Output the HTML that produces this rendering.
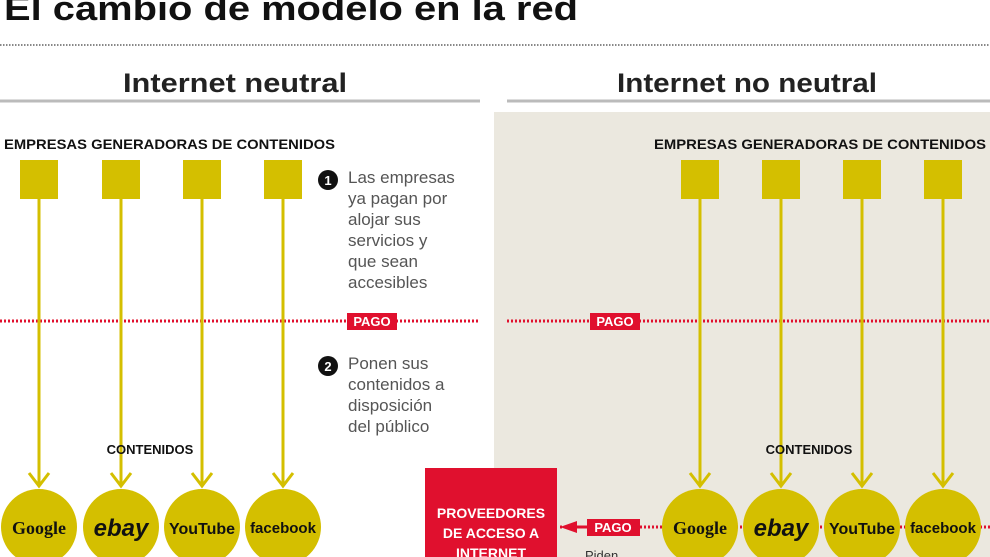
<!DOCTYPE html>
<html><head><meta charset="utf-8"><style>
html,body{margin:0;padding:0;background:#fff}
svg{display:block}
text{font-family:"Liberation Sans",sans-serif}
</style></head><body>
<svg width="990" height="557" viewBox="0 0 990 557" xmlns="http://www.w3.org/2000/svg">
<rect x="494" y="112" width="496" height="445" fill="#ebe8df"/>
<text x="4" y="20" font-size="34" font-weight="bold" fill="#111" textLength="574" lengthAdjust="spacingAndGlyphs">El cambio de modelo en la red</text>
<line x1="0" y1="45" x2="990" y2="45" stroke="#888" stroke-width="2" stroke-dasharray="1.5,1.5"/>
<text x="123" y="92" font-size="27" font-weight="bold" fill="#222" textLength="224" lengthAdjust="spacingAndGlyphs">Internet  neutral</text>
<text x="617" y="92" font-size="27" font-weight="bold" fill="#222" textLength="260" lengthAdjust="spacingAndGlyphs">Internet no neutral</text>
<line x1="0" y1="101" x2="480" y2="101" stroke="#bbb" stroke-width="3"/>
<line x1="507" y1="101" x2="990" y2="101" stroke="#bbb" stroke-width="3"/>
<text x="4" y="149" font-size="14" font-weight="bold" fill="#111" textLength="331" lengthAdjust="spacingAndGlyphs">EMPRESAS GENERADORAS DE CONTENIDOS</text>
<text x="654" y="149" font-size="14" font-weight="bold" fill="#111" textLength="332" lengthAdjust="spacingAndGlyphs">EMPRESAS GENERADORAS DE CONTENIDOS</text>
<line x1="0" y1="321" x2="480" y2="321" stroke="#e0102e" stroke-width="3" stroke-dasharray="2,2"/>
<line x1="507" y1="321" x2="990" y2="321" stroke="#e0102e" stroke-width="3" stroke-dasharray="2,2"/>
<line x1="560" y1="527" x2="990" y2="527" stroke="#e0102e" stroke-width="3" stroke-dasharray="2,2"/>
<g fill="#d4bf00">
<rect x="20" y="160" width="38" height="39"/>
<rect x="102" y="160" width="38" height="39"/>
<rect x="183" y="160" width="38" height="39"/>
<rect x="264" y="160" width="38" height="39"/>
<rect x="681" y="160" width="38" height="39"/>
<rect x="762" y="160" width="38" height="39"/>
<rect x="843" y="160" width="38" height="39"/>
<rect x="924" y="160" width="38" height="39"/>
</g>
<g stroke="#d4bf00" stroke-width="3" fill="none">
<path d="M39 199V485M29 473L39 486L49 473"/>
<path d="M121 199V485M111 473L121 486L131 473"/>
<path d="M202 199V485M192 473L202 486L212 473"/>
<path d="M283 199V485M273 473L283 486L293 473"/>
<path d="M700 199V485M690 473L700 486L710 473"/>
<path d="M781 199V485M771 473L781 486L791 473"/>
<path d="M862 199V485M852 473L862 486L872 473"/>
<path d="M943 199V485M933 473L943 486L953 473"/>
</g>
<g fill="#d4bf00">
<circle cx="39" cy="527" r="38"/><circle cx="121" cy="527" r="38"/><circle cx="202" cy="527" r="38"/><circle cx="283" cy="527" r="38"/>
<circle cx="700" cy="527" r="38"/><circle cx="781" cy="527" r="38"/><circle cx="862" cy="527" r="38"/><circle cx="943" cy="527" r="38"/>
</g>
<g font-weight="bold" fill="#111" text-anchor="middle">
<text x="39" y="534" font-size="18" style="font-family:'Liberation Serif',serif">Google</text>
<text x="121" y="536" font-size="24" font-style="italic">ebay</text>
<text x="202" y="534" font-size="16">YouTube</text>
<text x="283" y="533" font-size="15">facebook</text>
<text x="700" y="534" font-size="18" style="font-family:'Liberation Serif',serif">Google</text>
<text x="781" y="536" font-size="24" font-style="italic">ebay</text>
<text x="862" y="534" font-size="16">YouTube</text>
<text x="943" y="533" font-size="15">facebook</text>
</g>
<text x="150" y="454" font-size="13" font-weight="bold" fill="#111" text-anchor="middle">CONTENIDOS</text>
<text x="809" y="454" font-size="13" font-weight="bold" fill="#111" text-anchor="middle">CONTENIDOS</text>
<rect x="347" y="313" width="50" height="17" fill="#e0102e"/>
<text x="372" y="326" font-size="13" font-weight="bold" fill="#fff" text-anchor="middle">PAGO</text>
<rect x="590" y="313" width="50" height="17" fill="#e0102e"/>
<text x="615" y="326" font-size="13" font-weight="bold" fill="#fff" text-anchor="middle">PAGO</text>
<rect x="587" y="519" width="53" height="17" fill="#e0102e"/>
<text x="613" y="532" font-size="13" font-weight="bold" fill="#fff" text-anchor="middle">PAGO</text>
<path d="M560 527L577 521V533Z" fill="#e0102e"/>
<line x1="575" y1="527" x2="587" y2="527" stroke="#e0102e" stroke-width="3"/>
<rect x="425" y="468" width="132" height="89" fill="#e0102e"/>
<g font-size="14" font-weight="bold" fill="#fff" text-anchor="middle">
<text x="491" y="518">PROVEEDORES</text>
<text x="491" y="538">DE ACCESO A</text>
<text x="491" y="558">INTERNET</text>
</g>
<text x="585" y="560" font-size="13" fill="#333">Piden</text>
<circle cx="328" cy="180" r="10" fill="#111"/>
<text x="328" y="185" font-size="13" font-weight="bold" fill="#fff" text-anchor="middle">1</text>
<circle cx="328" cy="366" r="10" fill="#111"/>
<text x="328" y="371" font-size="13" font-weight="bold" fill="#fff" text-anchor="middle">2</text>
<g font-size="17" fill="#555">
<text x="348" y="183">Las empresas</text>
<text x="348" y="204">ya pagan por</text>
<text x="348" y="225">alojar sus</text>
<text x="348" y="246">servicios y</text>
<text x="348" y="267">que sean</text>
<text x="348" y="288">accesibles</text>
<text x="348" y="369">Ponen sus</text>
<text x="348" y="390">contenidos a</text>
<text x="348" y="411">disposición</text>
<text x="348" y="432">del público</text>
</g>
</svg>
</body></html>
